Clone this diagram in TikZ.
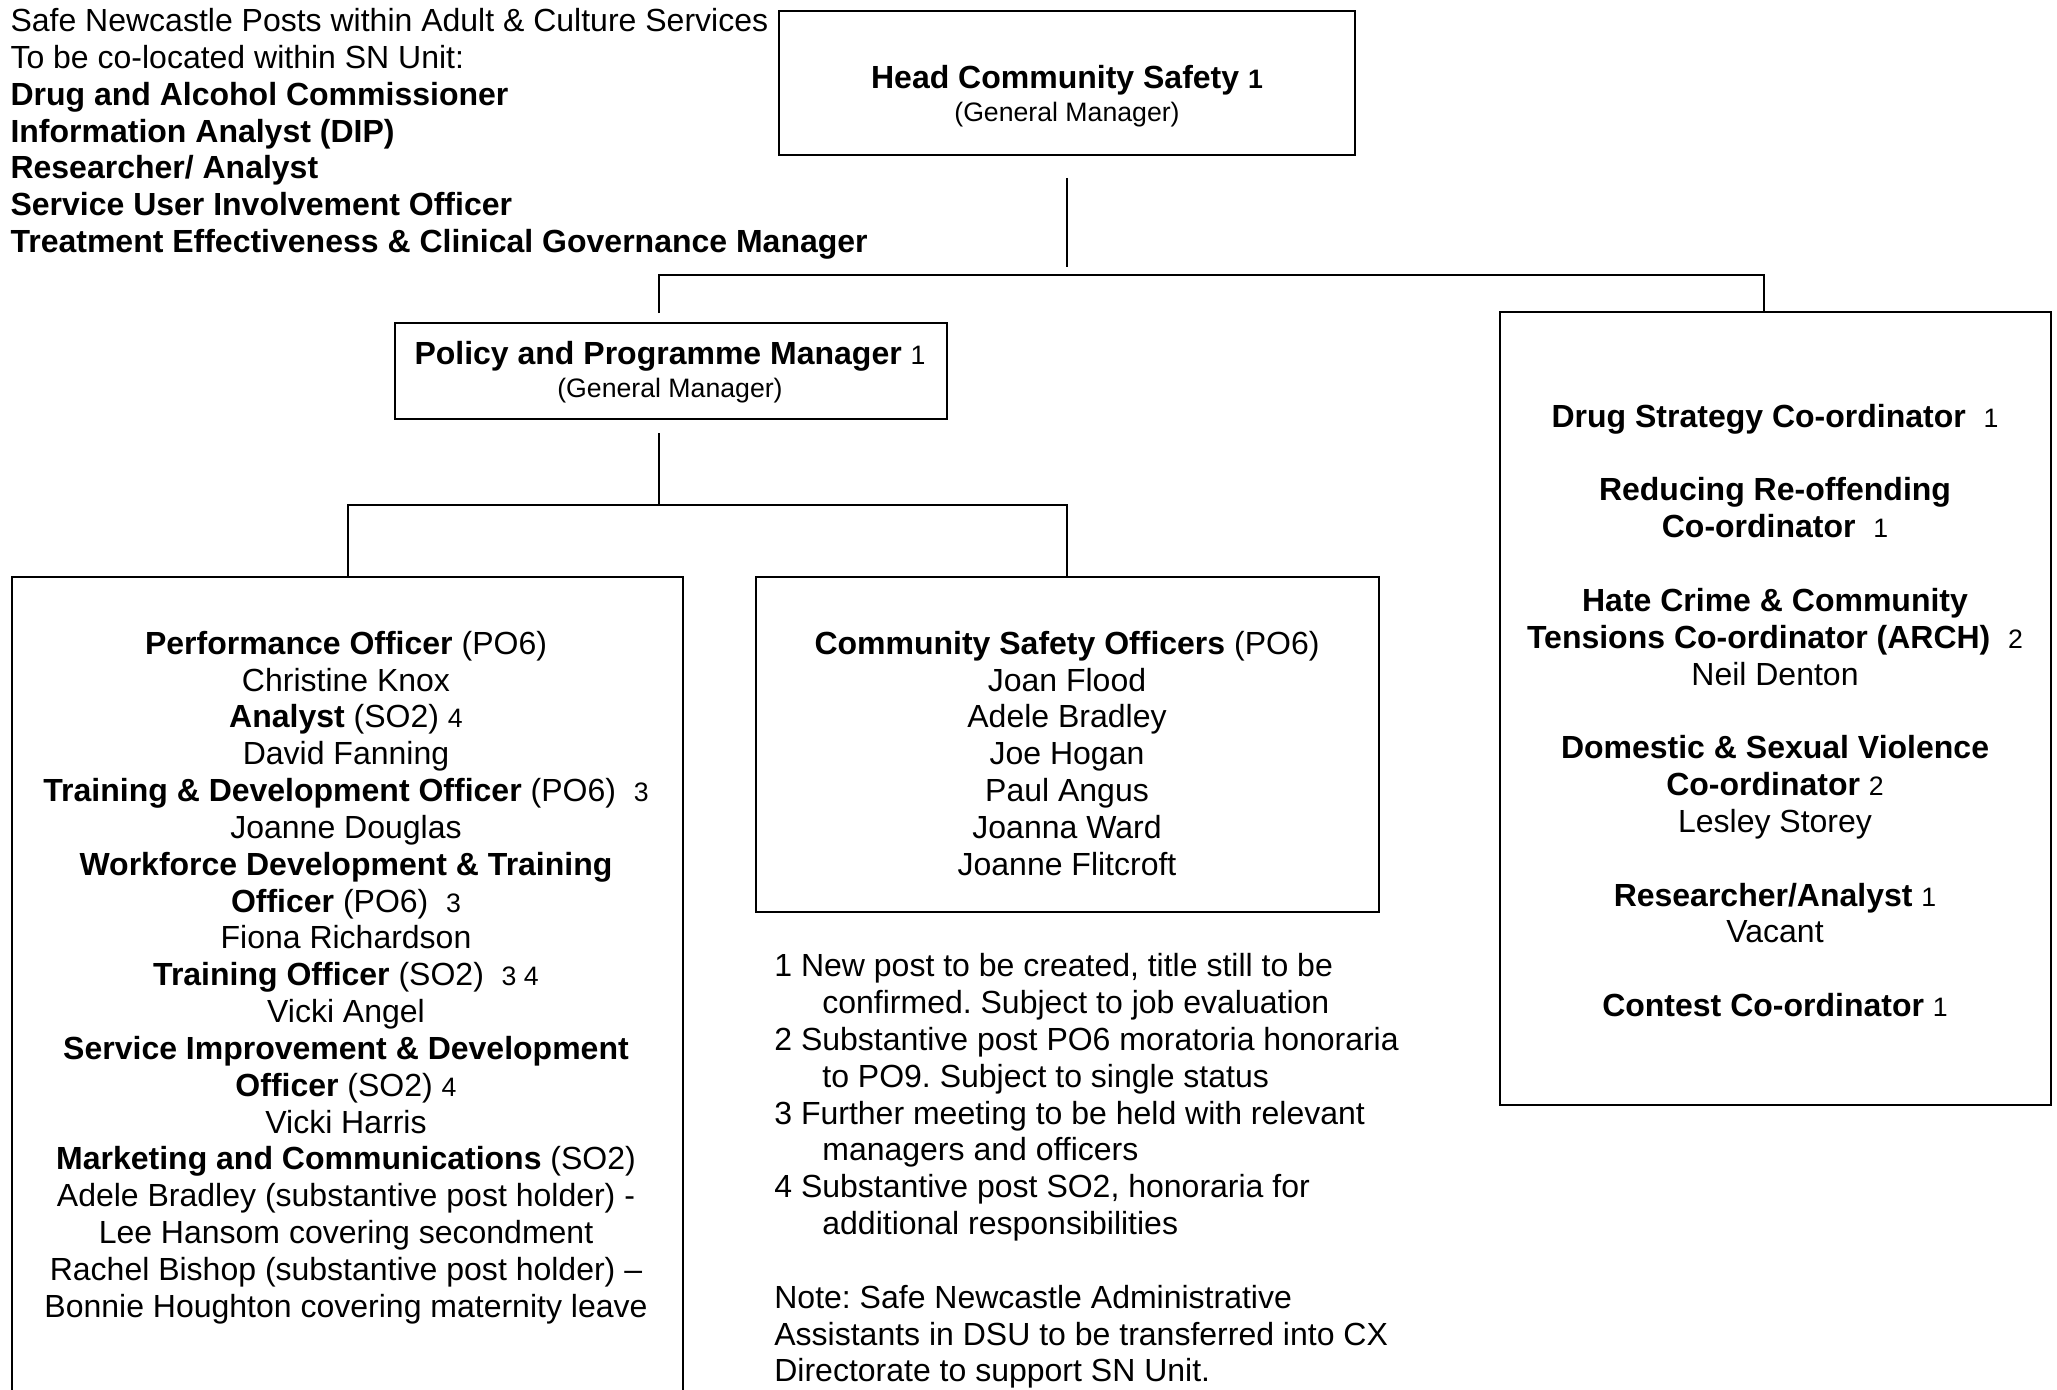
\documentclass[tikz,border=0pt]{standalone}
\usepackage{fontspec}
\setmainfont{Liberation Sans}
\usetikzlibrary{positioning}

\newcommand{\fnum}[1]{{\fontsize{10}{12}\selectfont #1}}
\frenchspacing

\begin{document}
\begin{tikzpicture}[x=0.375pt, y=0.375pt,
    box/.style={draw, line width=0.75pt, inner sep=0pt, outer sep=0pt},
    txt/.style={inner sep=0pt, align=center, font=\fontsize{12}{13.81}\selectfont},
    link/.style={line width=0.75pt}]
  \useasboundingbox (0,0) rectangle (2057,-1389);
  \clip (0,0) rectangle (2057,-1389);
  \fill[white] (0,0) rectangle (2057,-1389);

  % posts kept within Adult & Culture Services
  \node[txt, align=left, anchor=north west] (posts) at (10,-7.8)
    {Safe Newcastle Posts within Adult \& Culture Services\\
     To be co-located within SN Unit:\\
     \textbf{Drug and Alcohol Commissioner}\\
     \textbf{Information Analyst (DIP)}\\
     \textbf{Researcher/ Analyst}\\
     \textbf{Service User Involvement Officer}\\
     \textbf{Treatment Effectiveness \& Clinical Governance Manager}};

  % boxes
  \node[box, minimum width=216pt, minimum height=54pt] (head) at (1067,-83) {};
  \node[box, minimum width=207pt, minimum height=36pt] (policy) at (671,-371) {};
  \node[box, minimum width=206.6pt, minimum height=297.4pt] (side) at (1775.5,-708.5) {};
  \node[box, minimum width=251.6pt, minimum height=316pt] (team) at (347.5,-998.5) {};
  \node[box, minimum width=233.6pt, minimum height=125.6pt] (cso) at (1067.3,-744.5) {};

  % box texts
  \node[txt, anchor=north, font=\fontsize{12}{12.6}\selectfont] (headtxt) at (1067,-64.6)
    {\textbf{Head Community Safety \fnum{1}}\\ \fnum{(General Manager)}};
  \node[txt, anchor=north, font=\fontsize{12}{12.4}\selectfont] (policytxt) at (670,-340.6)
    {\textbf{Policy and Programme Manager} \fnum{1}\\ \fnum{(General Manager)}};
  \node[txt, anchor=north] (sidetxt) at (1775,-403.6)
    {\textbf{Drug Strategy Co-ordinator}\ \ \fnum{1}\\[13.81pt]
     \textbf{Reducing Re-offending}\\
     \textbf{Co-ordinator}\ \ \fnum{1}\\[13.81pt]
     \textbf{Hate Crime \& Community}\\
     \textbf{Tensions Co-ordinator (ARCH)}\ \ \fnum{2}\\
     Neil Denton\\[13.81pt]
     \textbf{Domestic \& Sexual Violence}\\
     \textbf{Co-ordinator} \fnum{2}\\
     Lesley Storey\\[13.81pt]
     \textbf{Researcher/Analyst} \fnum{1}\\
     Vacant\\[13.81pt]
     \textbf{Contest Co-ordinator} \fnum{1}};
  \node[txt, anchor=north] (teamtxt) at (346,-630.6)
    {\textbf{Performance Officer} (PO6)\\
     Christine Knox\\
     \textbf{Analyst} (SO2) \fnum{4}\\
     David Fanning\\
     \textbf{Training \& Development Officer} (PO6)\ \ \fnum{3}\\
     Joanne Douglas\\
     \textbf{Workforce Development \& Training}\\
     \textbf{Officer} (PO6)\ \ \fnum{3}\\
     Fiona Richardson\\
     \textbf{Training Officer} (SO2)\ \ \fnum{3 4}\\
     Vicki Angel\\
     \textbf{Service Improvement \& Development}\\
     \textbf{Officer} (SO2) \fnum{4}\\
     Vicki Harris\\
     \textbf{Marketing and Communications} (SO2)\\
     Adele Bradley (substantive post holder) -\\
     Lee Hansom covering secondment\\
     Rachel Bishop (substantive post holder) --\\
     Bonnie Houghton covering maternity leave};
  \node[txt, anchor=north] (csotxt) at (1067,-630.6)
    {\textbf{Community Safety Officers} (PO6)\\
     Joan Flood\\
     Adele Bradley\\
     Joe Hogan\\
     Paul Angus\\
     Joanna Ward\\
     Joanne Flitcroft};

  % footnotes
  \node[txt, align=left, below right=15.4pt and 6.75pt of cso.south west] (notes)
    {1 New post to be created, title still to be\\
     \hspace*{18pt}confirmed. Subject to job evaluation\\
     2 Substantive post PO6 moratoria honoraria\\
     \hspace*{18pt}to PO9. Subject to single status\\
     3 Further meeting to be held with relevant\\
     \hspace*{18pt}managers and officers\\
     4 Substantive post SO2, honoraria for\\
     \hspace*{18pt}additional responsibilities\\[13.81pt]
     Note: Safe Newcastle Administrative\\
     Assistants in DSU to be transferred into CX\\
     Directorate to support SN Unit.};

  % connectors
  \coordinate (busA) at (0,-275);
  \coordinate (busB) at (0,-505);
  \draw[link, shorten <=8.6pt, shorten >=3pt] (head.south) -- (head.south |- busA);
  \draw[link] ([xshift=-4.5pt]policy.north) ++(0,10) |- ([xshift=-4.5pt]side.north |- busA)
    -- ([xshift=-4.5pt]side.north);
  \draw[link, shorten <=5.25pt] ([xshift=-4.5pt]policy.south) -- ([xshift=-4.5pt]policy.south |- busB);
  \draw[link] (team.north) |- (cso.north |- busB) -- (cso.north);
\end{tikzpicture}
\end{document}
